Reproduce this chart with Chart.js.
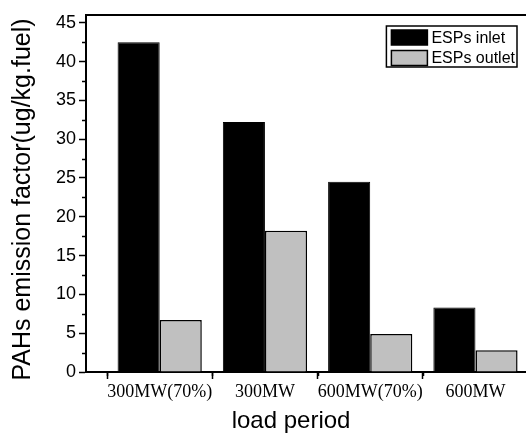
<!DOCTYPE html>
<html>
<head>
<meta charset="utf-8">
<script src="https://cdn.jsdelivr.net/npm/chart.js@4.4.1/dist/chart.umd.min.js"></script>
<style>
  html, body { margin: 0; padding: 0; background: #fff; overflow: hidden; }
  canvas { display: block; }
</style>
</head>
<body>
<canvas id="chart" width="526" height="434"></canvas>
<script>
const categories = ["300MW(70%)", "300MW", "600MW(70%)", "600MW"]
const inlet = [42.5, 32.2, 24.5, 8.3]
const outlet = [6.7, 18.2, 4.9, 2.8]
const yTickValues = [0, 5, 10, 15, 20, 25, 30, 35, 40, 45]

const sans = '"Liberation Sans", Arial, sans-serif'
const serif = '"Liberation Serif", "Times New Roman", serif'

// top frame line, minor ticks, boxed legend and axis titles
const frame = {
    id: "frame",
    afterDraw(chart) {
        const { ctx, chartArea: a, scales } = chart
        const x = scales.x
        const y = scales.y
        ctx.save()
        ctx.strokeStyle = "#000"

        ctx.lineWidth = 2
        ctx.beginPath()
        ctx.moveTo(a.left - 1, a.top)
        ctx.lineTo(a.right, a.top)
        ctx.stroke()

        ctx.lineWidth = 1.5
        ctx.beginPath()
        y.ticks.forEach(t => {
            const v = t.value + 2.5
            if (v < y.max) {
                const p = Math.round(y.getPixelForValue(v)) + 0.5
                ctx.moveTo(a.left - 4, p)
                ctx.lineTo(a.left, p)
            }
        })
        const mids = new Set()
        x.ticks.forEach(t => {
            mids.add(t.value - 0.5)
            mids.add(t.value + 0.5)
        })
        mids.forEach(v => {
            if (v > x.min && v < x.max) {
                const p = Math.round(x.getPixelForValue(v)) + 0.5
                ctx.moveTo(p, a.bottom)
                ctx.lineTo(p, a.bottom + 4)
            }
        })
        ctx.stroke()

        // legend
        ctx.font = "16px " + sans
        const items = chart.data.datasets
        const textW = Math.max(...items.map(d => ctx.measureText(d.label).width))
        const pad = 5, sw = 36, sh = 15, gap = 4
        const w = pad + sw + gap + textW + 2
        const h = 41
        const right = a.right - 9
        const top = a.top + 11
        const left = right - w
        ctx.lineWidth = 1.5
        ctx.strokeRect(left, top, w, h)
        items.forEach((d, i) => {
            const cy = top + 11.5 + i * 20.5
            ctx.fillStyle = d.backgroundColor
            ctx.fillRect(left + pad, cy - sh / 2, sw, sh)
            ctx.strokeRect(left + pad, cy - sh / 2, sw, sh)
            ctx.fillStyle = "#000"
            ctx.textBaseline = "middle"
            ctx.textAlign = "left"
            ctx.fillText(d.label, left + pad + sw + gap, cy + 1)
        })

        // axis titles
        ctx.fillStyle = "#000"
        ctx.font = "24px " + sans
        ctx.textAlign = "center"
        ctx.textBaseline = "alphabetic"
        ctx.fillText("load period", a.left + (a.right - a.left) * 0.466, chart.height - 6)

        ctx.font = "25px " + sans
        ctx.textBaseline = "middle"
        ctx.translate(23, (a.top + a.bottom) / 2 + 6)
        ctx.rotate(-Math.PI / 2)
        ctx.fillText("PAHs emission factor(ug/kg.fuel)", 0, 0)
        ctx.restore()
    }
}

new Chart(document.getElementById("chart"), {
    type: "bar",
    data: {
        datasets: [
            {
                label: "ESPs inlet",
                data: inlet.map((v, i) => ({ x: i, y: v })),
                backgroundColor: "#000000",
                borderColor: "#000000",
                borderWidth: 1
            },
            {
                label: "ESPs outlet",
                data: outlet.map((v, i) => ({ x: i, y: v })),
                backgroundColor: "#c0c0c0",
                borderColor: "#000000",
                borderWidth: 1.5
            }
        ]
    },
    options: {
        responsive: false,
        animation: false,
        devicePixelRatio: 1,
        categoryPercentage: 0.8,
        barPercentage: 1.0,
        layout: { padding: { top: 15, left: 0, right: 0, bottom: 0 } },
        plugins: {
            legend: { display: false },
            tooltip: { enabled: false }
        },
        scales: {
            x: {
                type: "linear",
                offset: false,
                min: -0.7,
                max: 3.48,
                afterBuildTicks: s => { s.ticks = categories.map((c, i) => ({ value: i })) },
                afterFit: s => {
                    s.height = 62
                    s.paddingLeft = 0
                    s.paddingRight = 0
                },
                grid: {
                    drawOnChartArea: false,
                    drawTicks: true,
                    tickLength: 7,
                    tickWidth: 1.5,
                    tickColor: "#000"
                },
                border: { display: true, color: "#000", width: 2 },
                ticks: {
                    autoSkip: false,
                    maxRotation: 0,
                    minRotation: 0,
                    padding: 2,
                    color: "#000",
                    font: { family: serif, size: 18 },
                    callback: v => categories[v] ?? ""
                }
            },
            y: {
                min: 0,
                max: 46,
                afterBuildTicks: s => { s.ticks = yTickValues.map(v => ({ value: v })) },
                afterFit: s => {
                    s.width = 86
                    s.paddingTop = 0
                    s.paddingBottom = 0
                },
                grid: {
                    drawOnChartArea: false,
                    drawTicks: true,
                    tickLength: 7,
                    tickWidth: 1.5,
                    tickColor: "#000"
                },
                border: { display: true, color: "#000", width: 2 },
                ticks: {
                    padding: 3,
                    color: "#000",
                    font: { family: sans, size: 18 }
                }
            }
        }
    },
    plugins: [frame]
})
</script>
</body>
</html>
